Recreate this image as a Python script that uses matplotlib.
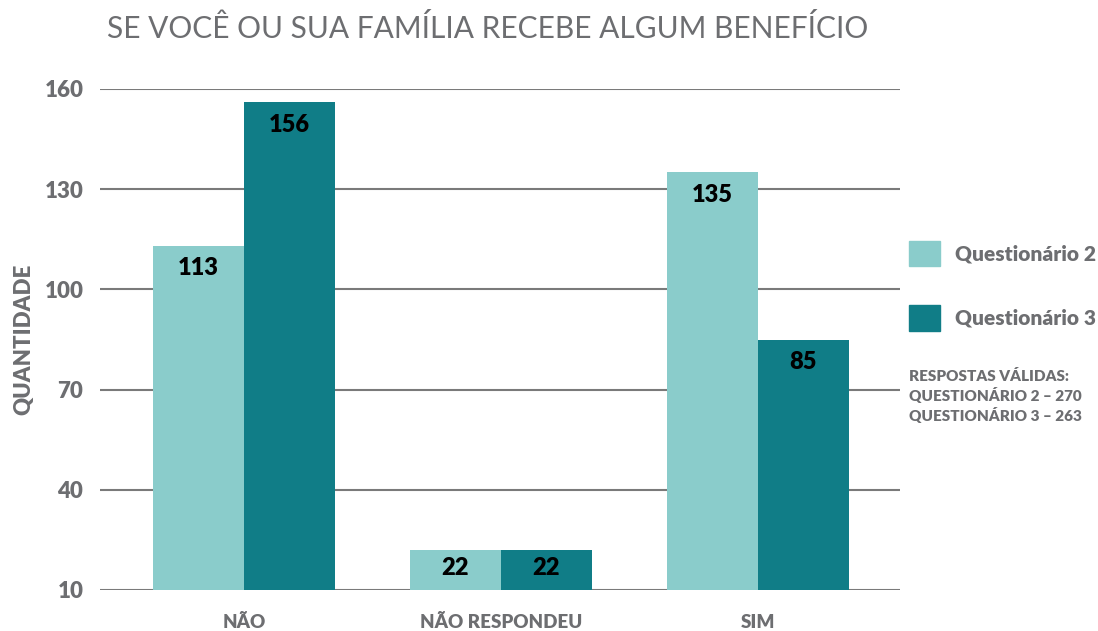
import numpy as np
import matplotlib
matplotlib.use('Agg')
import matplotlib.pyplot as plt
from matplotlib.patches import Patch

categories = ['NÃO', 'NÃO RESPONDEU', 'SIM']
q2 = [113, 22, 135]
q3 = [156, 22, 85]
series_names = ['Questionário 2', 'Questionário 3']
yticks = [10, 40, 70, 100, 130, 160]

light = '#8acccb'
dark = '#107d87'
grey = '#6d6e71'

plt.rcParams['font.family'] = ['Lato', 'DejaVu Sans']

fig = plt.figure(figsize=(10.98, 6.31), dpi=100)
ax = fig.add_axes([100/1098, 41/631, 800/1098, 501/631])

x = np.arange(len(categories))
width = 0.354
ax.bar(x - width/2, np.array(q2) - 10, width, bottom=10, color=light, zorder=3)
ax.bar(x + width/2, np.array(q3) - 10, width, bottom=10, color=dark, zorder=3)

for i in range(len(categories)):
    for off, v in [(-width/2, q2[i]), (width/2, q3[i])]:
        ypos = v - 6.7 if v > 40 else (v + 10) / 2 + 0.5
        ax.text(x[i] + off, ypos, str(v), ha='center', va='center',
                fontsize=17, fontweight='heavy', color='black', zorder=4)

ax.set_xlim(-0.56, 2.553)
ax.set_ylim(10, 160)
ax.set_yticks(yticks)
ax.set_yticklabels([str(t) for t in yticks], fontsize=16, fontweight='heavy', color=grey)
ax.set_xticks(x)
ax.set_xticklabels(categories, fontsize=13.5, fontweight='heavy', color=grey)
ax.tick_params(axis='both', length=0)
ax.tick_params(axis='y', pad=12)
ax.tick_params(axis='x', pad=17)
ax.grid(True, axis='y', color='#7a7a7a', linewidth=1.5, zorder=0)
for s in ax.spines.values():
    s.set_visible(False)
ax.set_ylabel('QUANTIDADE', fontsize=16, fontweight='heavy', color=grey, labelpad=7)

fig.text(107/1098, 1 - 29/631, 'SE VOCÊ OU SUA FAMÍLIA RECEBE ALGUM BENEFÍCIO',
         fontsize=21.5, color=grey, va='center', ha='left')

handles = [Patch(color=light), Patch(color=dark)]
leg = fig.legend(handles, series_names, loc='upper left',
                 bbox_to_anchor=(909/1098, 1 - 241/631), frameon=False,
                 borderpad=0, borderaxespad=0, handlelength=1.5, handleheight=1.5,
                 handletextpad=0.72, labelspacing=1.87,
                 prop={'size': 15, 'weight': 'heavy'})
for t in leg.get_texts():
    t.set_color(grey)

fig.text(909/1098, 1 - 369/631,
         'RESPOSTAS VÁLIDAS:\nQUESTIONÁRIO 2 – 270\nQUESTIONÁRIO 3 – 263',
         fontsize=11, fontweight='heavy', color=grey, va='top', ha='left',
         linespacing=1.3)

fig.savefig('out.png', dpi=100)
